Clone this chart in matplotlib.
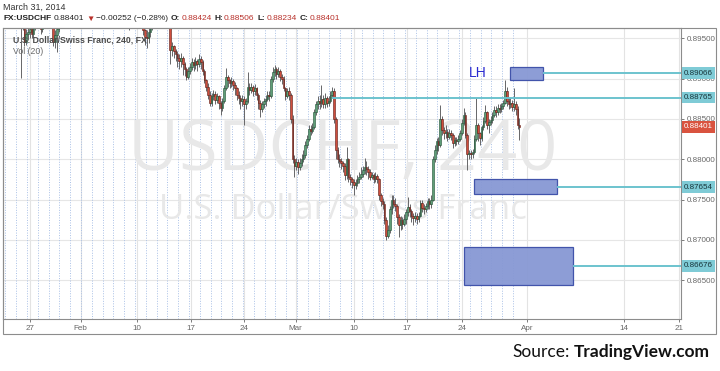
import matplotlib
matplotlib.use('Agg')

import matplotlib.pyplot as plt
from matplotlib.patches import Rectangle

W, H = 720, 371

# --- data: USDCHF 240 (4h) candles, one row per trading session (6 bars) ---
# first session index (trading days from Mon 27 Jan 2014)
first_session = -2
first_open = 0.9050

closes = [
    0.9045, 0.9038, 0.9030, 0.9012, 0.9005, 0.9000,   # Jan 23
    0.8990, 0.8985, 0.8975, 0.8966, 0.8946, 0.8955,   # Jan 24
    0.8958, 0.8962, 0.8955, 0.8965, 0.8970, 0.8978,   # Jan 27
    0.8972, 0.8962, 0.8968, 0.8985, 0.8995, 0.9000,   # Jan 28
    0.8995, 0.8985, 0.8945, 0.8954, 0.8962, 0.8975,   # Jan 29
    0.8985, 0.8992, 0.9005, 0.9018, 0.9030, 0.9040,   # Jan 30
    0.9045, 0.9050, 0.9062, 0.9070, 0.9075, 0.9080,   # Jan 31
    0.9075, 0.9068, 0.9060, 0.9045, 0.9030, 0.9020,   # Feb 3
    0.9025, 0.9018, 0.9010, 0.9000, 0.9005, 0.9012,   # Feb 4
    0.9015, 0.9020, 0.9012, 0.9005, 0.9000, 0.8995,   # Feb 5
    0.8998, 0.9005, 0.9010, 0.9002, 0.8995, 0.8990,   # Feb 6
    0.8985, 0.8978, 0.8972, 0.8990, 0.9000, 0.8995,   # Feb 7
    0.8990, 0.8985, 0.8978, 0.8970, 0.8960, 0.8952,   # Feb 10
    0.8950, 0.8958, 0.8966, 0.8975, 0.8985, 0.8990,   # Feb 11
    0.8995, 0.9000, 0.8995, 0.8988, 0.8982, 0.8978,   # Feb 12
    0.8975, 0.8936, 0.8940, 0.8934, 0.8930, 0.8926,   # Feb 13
    0.8922, 0.8925, 0.8918, 0.8912, 0.8902, 0.8910,   # Feb 14
    0.8915, 0.8920, 0.8917, 0.8922, 0.8918, 0.8924,   # Feb 17
    0.8920, 0.8910, 0.8898, 0.8890, 0.8880, 0.8870,   # Feb 18
    0.8878, 0.8881, 0.8874, 0.8878, 0.8870, 0.8864,   # Feb 19
    0.8872, 0.8888, 0.8902, 0.8898, 0.8894, 0.8897,   # Feb 20
    0.8892, 0.8888, 0.8880, 0.8876, 0.8872, 0.8875,   # Feb 21
    0.8868, 0.8872, 0.8890, 0.8886, 0.8890, 0.8885,   # Feb 24
    0.8888, 0.8880, 0.8870, 0.8862, 0.8868, 0.8872,   # Feb 25
    0.8875, 0.8880, 0.8878, 0.8900, 0.8908, 0.8912,   # Feb 26
    0.8906, 0.8910, 0.8902, 0.8900, 0.8888, 0.8878,   # Feb 27
    0.8884, 0.8880, 0.8850, 0.8800, 0.8792, 0.8797,   # Feb 28
    0.8790, 0.8795, 0.8800, 0.8805, 0.8818, 0.8825,   # Mar 3
    0.8838, 0.8835, 0.8840, 0.8858, 0.8868, 0.8872,   # Mar 4
    0.8870, 0.8875, 0.8868, 0.8876, 0.8870, 0.8872,   # Mar 5
    0.8880, 0.8885, 0.8850, 0.8812, 0.8800, 0.8798,   # Mar 6
    0.8795, 0.8792, 0.8780, 0.8800, 0.8778, 0.8775,   # Mar 7
    0.8772, 0.8768, 0.8770, 0.8775, 0.8778, 0.8782,   # Mar 10
    0.8786, 0.8790, 0.8788, 0.8784, 0.8778, 0.8780,   # Mar 11
    0.8776, 0.8779, 0.8775, 0.8755, 0.8748, 0.8744,   # Mar 12
    0.8725, 0.8705, 0.8712, 0.8738, 0.8750, 0.8745,   # Mar 13
    0.8742, 0.8728, 0.8718, 0.8724, 0.8720, 0.8726,   # Mar 14
    0.8735, 0.8741, 0.8736, 0.8730, 0.8727, 0.8729,   # Mar 17
    0.8726, 0.8730, 0.8746, 0.8740, 0.8738, 0.8742,   # Mar 18
    0.8748, 0.8744, 0.8750, 0.8800, 0.8812, 0.8822,   # Mar 19
    0.8818, 0.8850, 0.8836, 0.8832, 0.8834, 0.8828,   # Mar 20
    0.8832, 0.8830, 0.8820, 0.8824, 0.8822, 0.8825,   # Mar 21
    0.8832, 0.8845, 0.8855, 0.8830, 0.8806, 0.8808,   # Mar 24
    0.8806, 0.8809, 0.8825, 0.8842, 0.8832, 0.8826,   # Mar 25
    0.8840, 0.8848, 0.8858, 0.8842, 0.8846, 0.8849,   # Mar 26
    0.8855, 0.8861, 0.8858, 0.8864, 0.8862, 0.8866,   # Mar 27
    0.8870, 0.8885, 0.8872, 0.8868, 0.8870, 0.88653,  # Mar 28
    0.8868, 0.8862, 0.88424, 0.88401,                 # Mar 31
]

highs = [
    0.9055, 0.9050, 0.9042, 0.9032, 0.9015, 0.9010,
    0.9005, 0.8995, 0.8990, 0.8980, 0.8968, 0.8962,
    0.8965, 0.8968, 0.8966, 0.8972, 0.8978, 0.8985,
    0.8982, 0.8975, 0.8988, 0.8992, 0.9002, 0.9010,
    0.9005, 0.8998, 0.8988, 0.8960, 0.8968, 0.8980,
    0.8992, 0.9000, 0.9012, 0.9025, 0.9038, 0.9048,
    0.9052, 0.9058, 0.9068, 0.9078, 0.9082, 0.9088,
    0.9085, 0.9080, 0.9072, 0.9065, 0.9050, 0.9035,
    0.9030, 0.9028, 0.9022, 0.9012, 0.9010, 0.9018,
    0.9020, 0.9026, 0.9022, 0.9015, 0.9008, 0.9005,
    0.9002, 0.9010, 0.9016, 0.9012, 0.9004, 0.8998,
    0.8994, 0.8988, 0.8982, 0.8995, 0.9005, 0.9004,
    0.8998, 0.8992, 0.8988, 0.8980, 0.8972, 0.8962,
    0.8960, 0.8965, 0.8972, 0.8980, 0.8990, 0.8998,
    0.9002, 0.9008, 0.9004, 0.8998, 0.8992, 0.8988,
    0.8985, 0.8978, 0.8946, 0.8942, 0.8937, 0.8934,
    0.8930, 0.8932, 0.8928, 0.8921, 0.8915, 0.8914,
    0.8919, 0.8925, 0.8924, 0.8927, 0.8924, 0.8930,
    0.8928, 0.8923, 0.8912, 0.8900, 0.8894, 0.8884,
    0.8882, 0.8886, 0.8884, 0.8882, 0.8880, 0.8872,
    0.8876, 0.8892, 0.8913, 0.8905, 0.8900, 0.8902,
    0.8900, 0.8896, 0.8890, 0.8884, 0.8880, 0.8880,
    0.8878, 0.8876, 0.8908, 0.8894, 0.8895, 0.8892,
    0.8893, 0.8890, 0.8882, 0.8873, 0.8872, 0.8876,
    0.8880, 0.8884, 0.8884, 0.8903, 0.8914, 0.8917,
    0.8915, 0.8914, 0.8912, 0.8906, 0.8903, 0.8890,
    0.8888, 0.8889, 0.8882, 0.8855, 0.8805, 0.8802,
    0.8800, 0.8802, 0.8806, 0.8812, 0.8822, 0.8830,
    0.8842, 0.8843, 0.8845, 0.8862, 0.8872, 0.8878,
    0.8880, 0.8892, 0.8880, 0.8882, 0.8879, 0.8878,
    0.8884, 0.8890, 0.8888, 0.8852, 0.8815, 0.8806,
    0.8802, 0.8798, 0.8795, 0.8815, 0.8802, 0.8782,
    0.8778, 0.8775, 0.8776, 0.8780, 0.8784, 0.8790,
    0.8792, 0.8802, 0.8798, 0.8792, 0.8788, 0.8784,
    0.8783, 0.8784, 0.8782, 0.8777, 0.8758, 0.8752,
    0.8748, 0.8728, 0.8718, 0.8742, 0.8756, 0.8755,
    0.8752, 0.8745, 0.8732, 0.8730, 0.8728, 0.8732,
    0.8738, 0.8753, 0.8744, 0.8738, 0.8733, 0.8734,
    0.8733, 0.8734, 0.8750, 0.8749, 0.8744, 0.8746,
    0.8752, 0.8752, 0.8755, 0.8804, 0.8818, 0.8826,
    0.8828, 0.8867, 0.8854, 0.8840, 0.8842, 0.8838,
    0.8838, 0.8836, 0.8833, 0.8828, 0.8827, 0.8830,
    0.8836, 0.8850, 0.8864, 0.8858, 0.8832, 0.8812,
    0.8812, 0.8813, 0.8830, 0.8876, 0.8845, 0.8834,
    0.8843, 0.8852, 0.8867, 0.8860, 0.8850, 0.8853,
    0.8858, 0.8866, 0.8866, 0.8868, 0.8868, 0.8870,
    0.8874, 0.8898, 0.8890, 0.8876, 0.8877, 0.8874,
    0.8888, 0.8872, 0.8866, 0.88506,
]

lows = [
    0.9036, 0.9030, 0.9022, 0.9005, 0.8996, 0.8992,
    0.8985, 0.8975, 0.8901, 0.8960, 0.8940, 0.8942,
    0.8948, 0.8950, 0.8950, 0.8952, 0.8960, 0.8966,
    0.8965, 0.8955, 0.8958, 0.8966, 0.8982, 0.8990,
    0.8985, 0.8975, 0.8940, 0.8938, 0.8933, 0.8958,
    0.8970, 0.8980, 0.8988, 0.9000, 0.9012, 0.9025,
    0.9035, 0.9040, 0.9045, 0.9058, 0.9065, 0.9068,
    0.9068, 0.9060, 0.9052, 0.9040, 0.9025, 0.9012,
    0.9015, 0.9012, 0.9004, 0.8992, 0.8995, 0.9000,
    0.9008, 0.9010, 0.9006, 0.8998, 0.8992, 0.8988,
    0.8990, 0.8995, 0.9000, 0.8996, 0.8988, 0.8982,
    0.8978, 0.8970, 0.8960, 0.8968, 0.8985, 0.8988,
    0.8980, 0.8975, 0.8970, 0.8964, 0.8954, 0.8942,
    0.8938, 0.8944, 0.8952, 0.8960, 0.8970, 0.8980,
    0.8985, 0.8990, 0.8988, 0.8980, 0.8975, 0.8970,
    0.8965, 0.8918, 0.8928, 0.8926, 0.8922, 0.8915,
    0.8912, 0.8914, 0.8905, 0.8903, 0.8898, 0.8900,
    0.8906, 0.8911, 0.8910, 0.8912, 0.8910, 0.8914,
    0.8912, 0.8905, 0.8894, 0.8884, 0.8875, 0.8866,
    0.8866, 0.8873, 0.8869, 0.8870, 0.8862, 0.8855,
    0.8860, 0.8870, 0.8886, 0.8890, 0.8888, 0.8890,
    0.8886, 0.8880, 0.8874, 0.8868, 0.8862, 0.8866,
    0.8842, 0.8862, 0.8870, 0.8880, 0.8882, 0.8879,
    0.8880, 0.8874, 0.8862, 0.8852, 0.8858, 0.8864,
    0.8866, 0.8872, 0.8872, 0.8876, 0.8896, 0.8903,
    0.8900, 0.8902, 0.8897, 0.8893, 0.8884, 0.8874,
    0.8876, 0.8874, 0.8845, 0.8795, 0.8778, 0.8787,
    0.8782, 0.8786, 0.8792, 0.8796, 0.8802, 0.8814,
    0.8822, 0.8830, 0.8832, 0.8838, 0.8855, 0.8862,
    0.8862, 0.8865, 0.8863, 0.8864, 0.8865, 0.8866,
    0.8870, 0.8876, 0.8845, 0.8800, 0.8795, 0.8790,
    0.8788, 0.8784, 0.8774, 0.8776, 0.8772, 0.8768,
    0.8764, 0.8756, 0.8763, 0.8767, 0.8770, 0.8775,
    0.8778, 0.8782, 0.8780, 0.8776, 0.8774, 0.8775,
    0.8770, 0.8772, 0.8770, 0.8750, 0.8742, 0.8738,
    0.8720, 0.8700, 0.8702, 0.8708, 0.8732, 0.8740,
    0.8736, 0.8720, 0.8704, 0.8712, 0.8714, 0.8717,
    0.8720, 0.8730, 0.8728, 0.8722, 0.8718, 0.8722,
    0.8720, 0.8722, 0.8728, 0.8735, 0.8732, 0.8735,
    0.8738, 0.8738, 0.8740, 0.8748, 0.8796, 0.8806,
    0.8810, 0.8815, 0.8830, 0.8825, 0.8826, 0.8822,
    0.8825, 0.8824, 0.8814, 0.8816, 0.8817, 0.8819,
    0.8822, 0.8830, 0.8842, 0.8826, 0.8787, 0.8800,
    0.8800, 0.8802, 0.8806, 0.8822, 0.8822, 0.8818,
    0.8822, 0.8836, 0.8845, 0.8838, 0.8832, 0.8842,
    0.8845, 0.8852, 0.8852, 0.8855, 0.8857, 0.8859,
    0.8862, 0.8868, 0.8866, 0.8862, 0.8864, 0.8860,
    0.8860, 0.8855, 0.8838, 0.88234,
]

# price axis ticks
price_ticks = [0.865, 0.870, 0.875, 0.880, 0.885, 0.890, 0.895]

# time axis labels (position in trading days from Mon 27 Jan)
time_ticks = [0, 4.7, 9.9, 14.9, 19.8, 24.6, 30, 34.9, 40, 46, 55, 60.1]
time_labels = ['27', 'Feb', '10', '17', '24', 'Mar', '10', '17', '24', 'Apr', '14', '21']

# drawn levels (price, start day) and zones (day0, day1, price_lo, price_hi)
levels = [(0.89066, 47.5), (0.88765, 28.0), (0.87654, 48.8), (0.86676, 50.3)]
zones = [(44.45, 47.5, 0.88979, 0.89148),
         (41.15, 48.8, 0.87568, 0.87751),
         (40.2, 50.3, 0.86443, 0.86914)]
last_price = 0.88401

UP_FILL, UP_EDGE = '#5f9e78', '#1f4f33'
DN_FILL, DN_EDGE = '#cf4e3d', '#5b1a13'
WICK = '#666668'
LEVEL = '#6cc3ce'
FRAME = '#8c8c8c'

# --- figure ---
fig = plt.figure(figsize=(W / 100, H / 100), dpi=100)
fig.patch.set_facecolor('white')
ax = fig.add_axes([3 / W, 1 - 319 / H, 678 / W, 291 / H])
ax.set_xlim(-2.5, 60.28)
ax.set_ylim(0.860174, 0.896278)

# bar positions inside each session
n = len(closes)
opens = [first_open] + closes[:-1]
xs = [first_session + k // 6 - 0.27 + (k % 6 + 0.5) / 6 for k in range(n)]

# grid: session breaks (dotted), week lines, price lines
for d in range(first_session, first_session + (n + 5) // 6):
    ax.axvline(d - 0.27, color='#a9c0e6', lw=0.7, ls=(0, (1, 1.6)), zorder=0.5)
for t in time_ticks:
    ax.axvline(t, color='#e3e3e3', lw=0.8, zorder=0.4)
for p in price_ticks:
    ax.axhline(p, color='#e6e6e6', lw=0.8, zorder=0.4)

# watermark
ax.text(0.5015, 0.575, 'USDCHF, 240', transform=ax.transAxes, fontsize=50.5,
        color='#e8e8e8', ha='center', va='center', family='Open Sans', zorder=0.6)
ax.text(0.5015, 0.373, 'U.S. Dollar/Swiss Franc', transform=ax.transAxes, fontsize=25,
        color='#e8e8e8', ha='center', va='center', family='Open Sans', zorder=0.6)

# candles
ax.vlines(xs, lows, highs, color=WICK, lw=0.7, zorder=2)
for x, o, c in zip(xs, opens, closes):
    up = c >= o
    h = max(abs(c - o), 0.00004)
    ax.bar(x, h, bottom=min(o, c), width=0.14,
           color=UP_FILL if up else DN_FILL,
           edgecolor=UP_EDGE if up else DN_EDGE, linewidth=0.4, zorder=3)

# zones and levels
for d0, d1, lo, hi in zones:
    ax.add_patch(Rectangle((d0, lo), d1 - d0, hi - lo, facecolor='#8798d4',
                           edgecolor='#3b4ea8', lw=0.9, alpha=0.95, zorder=4))
for price, start in levels:
    ax.plot([start, 60.28], [price, price], color=LEVEL, lw=1.4, zorder=4,
            solid_capstyle='butt')
ax.text(41.5, 0.8907, 'LH', color='#2a2ad0', fontsize=10, ha='center', va='center',
        family='Liberation Sans', zorder=5)

# price axis on the right
ax.yaxis.tick_right()
ax.set_yticks(price_ticks)
ax.set_yticklabels([f'{p:.5f}' for p in price_ticks])
ax.tick_params(axis='y', direction='out', length=2.5, width=0.6, pad=1.5,
               labelsize=5.8, colors='#666666')
for lbl in ax.get_yticklabels():
    lbl.set_family('Liberation Sans')

ytr = ax.get_yaxis_transform()
for price, _ in levels:
    ax.text(1.0045, price, f'{price:.5f}', transform=ytr, fontsize=5.8, color='#17343a',
            ha='left', va='center', family='Liberation Sans', clip_on=False, zorder=6,
            bbox=dict(boxstyle='square,pad=0.3', fc='#7fcbd6', ec='none'))
ax.text(1.0045, last_price, f'{last_price:.5f}', transform=ytr, fontsize=5.8,
        color='white', ha='left', va='center', family='Liberation Sans', clip_on=False,
        zorder=6, bbox=dict(boxstyle='square,pad=0.3', fc='#d9533f', ec='none'))

# time axis
ax.set_xticks(time_ticks)
ax.set_xticklabels(time_labels)
ax.tick_params(axis='x', direction='out', length=2, width=0.6, pad=2,
               labelsize=5.8, colors='#666666')
for lbl in ax.get_xticklabels():
    lbl.set_family('Liberation Sans')

for s in ax.spines.values():
    s.set_color(FRAME)
    s.set_linewidth(0.8)

# outer frame of the widget
fig.add_artist(Rectangle((3 / W, 1 - 334 / H), 713 / W, 306 / H, transform=fig.transFigure,
                         fill=False, edgecolor=FRAME, lw=0.8))

# legend texts inside the pane
ax.text(10 / 678, 1 - 12 / 291, 'U.S. Dollar/Swiss Franc, 240, FX', transform=ax.transAxes,
        fontsize=6.3, color='#4a4a4a', fontweight='bold', ha='left', va='center',
        family='Liberation Sans', zorder=7)
ax.text(10 / 678, 1 - 24 / 291, 'Vol (20)', transform=ax.transAxes,
        fontsize=6.3, color='#6a6a6a', ha='left', va='center',
        family='Liberation Sans', zorder=7)

# header
renderer = fig.canvas.get_renderer()


def draw_row(x_px, y_px, pieces, size):
    for text, color, weight, gap in pieces:
        t = fig.text(x_px / W, 1 - y_px / H, text, fontsize=size, color=color,
                     fontweight=weight, family=['Liberation Sans', 'DejaVu Sans'],
                     ha='left', va='center')
        x_px += t.get_window_extent(renderer).width + gap


draw_row(3, 7, [('March 31, 2014', '#333333', 'normal', 0)], 6.4)
red = '#b8312b'
draw_row(3, 19, [
    ('FX:USDCHF', '#222222', 'bold', 3),
    ('0.88401', '#222222', 'normal', 2),
    ('\u25bc', red, 'normal', 1),
    ('\u22120.00252 (\u22120.28%)', '#222222', 'normal', 3),
    ('O:', '#222222', 'bold', 1), ('0.88424', red, 'normal', 3),
    ('H:', '#222222', 'bold', 1), ('0.88506', red, 'normal', 3),
    ('L:', '#222222', 'bold', 1), ('0.88234', red, 'normal', 3),
    ('C:', '#222222', 'bold', 1), ('0.88401', red, 'normal', 0),
], 6.0)

# source line
src = fig.text(710 / W, 1 - 352 / H, 'TradingView.com', fontsize=12.5, fontweight='bold',
               color='#111111', family='Lato', ha='right', va='center')
bb = src.get_window_extent(renderer)
fig.text((bb.x0 - 4) / W, 1 - 352 / H, 'Source:', fontsize=12.5, color='#111111',
         family='Lato', ha='right', va='center')

fig.savefig('out.png', dpi=100, facecolor='white')
plt.close(fig)
